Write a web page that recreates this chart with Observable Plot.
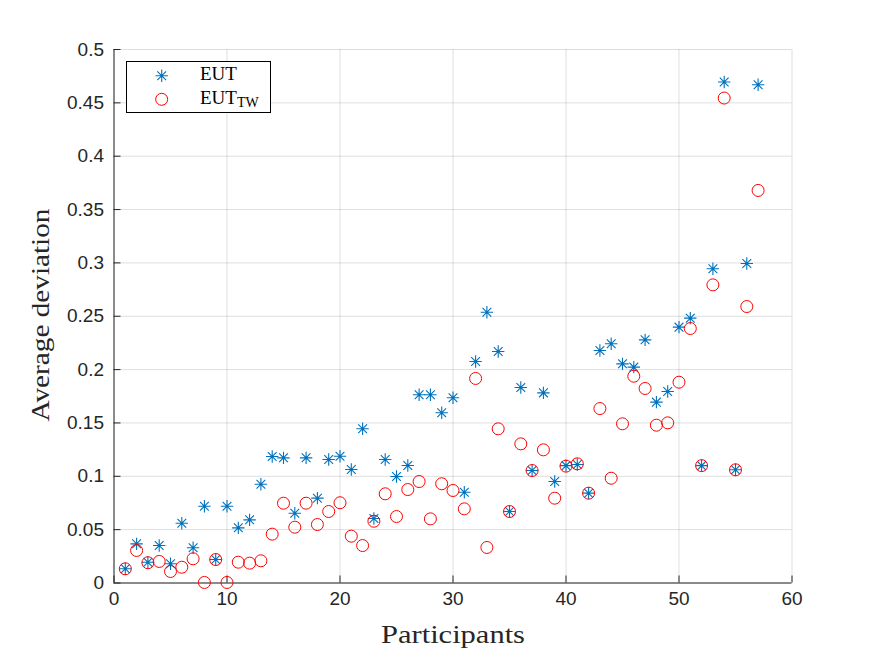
<!DOCTYPE html>
<html>
<head>
<meta charset="utf-8">
<script src="https://cdn.jsdelivr.net/npm/d3@7"></script>
<script src="https://cdn.jsdelivr.net/npm/@observablehq/plot@0.6"></script>
<style>
  html, body { margin: 0; padding: 0; background: #fff; }
  #chart { position: relative; width: 875px; height: 656px; }
  #chart g[aria-label$="tick label"], #chart g[aria-label$="tick label"] text { font-size: 19px; font-family: 'Liberation Sans', Arial, sans-serif; }
</style>
</head>
<body>
<div id="chart"></div>
<script>
const participants = [1,2,3,4,5,6,7,8,9,10,11,12,13,14,15,16,17,18,19,20,21,22,23,24,25,26,27,28,29,30,31,32,33,34,35,36,37,38,39,40,41,42,43,44,45,46,47,48,49,50,51,52,53,54,55,56,57];
const eut = [0.0133,0.0367,0.0195,0.0351,0.018,0.056,0.033,0.072,0.022,0.072,
  0.0517,0.0592,0.0926,0.1185,0.1173,0.0654,0.1173,0.0795,0.1157,0.1188,
  0.1064,0.1445,0.0604,0.1157,0.0998,0.1101,0.1764,0.1764,0.1595,0.1736,
  0.0851,0.2076,0.2538,0.217,0.067,0.1832,0.1054,0.1782,0.0951,0.110,
  0.111,0.0842,0.2179,0.2242,0.2054,0.2023,0.2279,0.1695,0.1795,0.2398,
  0.2482,0.110,0.2945,0.4695,0.1061,0.2994,0.467];
const eutTW = [0.0133,0.0305,0.019,0.0202,0.0108,0.0148,0.0227,0.0005,0.022,0.0005,
  0.0195,0.0186,0.0208,0.0458,0.0748,0.0523,0.0748,0.0548,0.067,0.0752,
  0.0439,0.0351,0.0579,0.0836,0.0623,0.0876,0.0951,0.0601,0.093,0.0867,
  0.0695,0.1917,0.0333,0.1445,0.067,0.1304,0.1054,0.1248,0.0795,0.1095,
  0.1117,0.0842,0.1635,0.0982,0.1492,0.1938,0.1823,0.1479,0.1501,0.1882,
  0.2385,0.110,0.2794,0.4545,0.1061,0.2591,0.3679];
const xTicks = [0,10,20,30,40,50,60];
const xTickLabels = ["0","10","20","30","40","50","60"];
const yTicks = [0,0.05,0.1,0.15,0.2,0.25,0.3,0.35,0.4,0.45,0.5];
const yTickLabels = ["0","0.05","0.1","0.15","0.2","0.25","0.3","0.35","0.4","0.45","0.5"];
const seriesNames = ["EUT", "EUT", "TW"];
const xLabel = "Participants";
const yLabel = "Average deviation";

const blue = "#0072BD", red = "#FF0000", axisColor = "#262626";

const drawAsterisk = (ctx, r) => {
  const d = r * Math.SQRT1_2;
  ctx.moveTo(-r, 0); ctx.lineTo(r, 0);
  ctx.moveTo(0, -r); ctx.lineTo(0, r);
  ctx.moveTo(-d, -d); ctx.lineTo(d, d);
  ctx.moveTo(-d, d); ctx.lineTo(d, -d);
};
const asterisk = { draw(ctx, size) { drawAsterisk(ctx, Math.sqrt(size / Math.PI)); } };

const rowsEUT = participants.map((p, i) => ({p, v: eut[i]}));
const rowsTW = participants.map((p, i) => ({p, v: eutTW[i]}));

const plot = Plot.plot({
  width: 875,
  height: 656,
  marginLeft: 113.5,
  marginRight: 83.5,
  marginTop: 49,
  marginBottom: 73.5,
  style: { fontFamily: "'Liberation Sans', Arial, sans-serif", fontSize: "19px", color: axisColor, background: "#fff" },
  x: { domain: [0, 60], label: null },
  y: { domain: [0, 0.5], label: null },
  marks: [
    Plot.gridX(xTicks, { stroke: "#000", strokeOpacity: 0.13 }),
    Plot.gridY(yTicks, { stroke: "#000", strokeOpacity: 0.13 }),
    Plot.ruleX([0], { stroke: axisColor }),
    Plot.ruleY([0], { stroke: axisColor }),
    Plot.axisX(xTicks, { tickSize: -7, tickPadding: 15, stroke: axisColor, fill: axisColor, tickFormat: (d, i) => xTickLabels[i], label: null }),
    Plot.axisY(yTicks, { tickSize: -7, tickPadding: 17, stroke: axisColor, fill: axisColor, tickFormat: (d, i) => yTickLabels[i], label: null }),
    Plot.dot(rowsEUT, { x: "p", y: "v", symbol: asterisk, r: 6.2, stroke: blue, fill: "none", strokeWidth: 1.1 }),
    Plot.dot(rowsTW, { x: "p", y: "v", symbol: "circle", r: 6, stroke: red, fill: "none", strokeWidth: 1 })
  ]
});

document.getElementById("chart").appendChild(plot);

const svg = d3.select(plot);
const serif = "'Liberation Serif', 'Times New Roman', serif";

// axis labels
svg.append("text")
  .attr("x", 453).attr("y", 643)
  .attr("text-anchor", "middle")
  .attr("font-family", serif).attr("font-size", 26)
  .attr("fill", axisColor)
  .attr("textLength", 144).attr("lengthAdjust", "spacingAndGlyphs")
  .text(xLabel);
svg.append("text")
  .attr("transform", "translate(49,315) rotate(-90)")
  .attr("text-anchor", "middle")
  .attr("font-family", serif).attr("font-size", 26)
  .attr("fill", axisColor)
  .attr("textLength", 213).attr("lengthAdjust", "spacingAndGlyphs")
  .text(yLabel);

// legend
const lg = svg.append("g").attr("text-anchor", "start");
lg.append("rect").attr("x", 126.5).attr("y", 61.5).attr("width", 144).attr("height", 51)
  .attr("fill", "#fff").attr("stroke", "#000").attr("stroke-width", 1);
const ap = d3.path(); drawAsterisk(ap, 6.2);
lg.append("path").attr("d", ap.toString()).attr("transform", "translate(161.7,75.7)")
  .attr("fill", "none").attr("stroke", blue).attr("stroke-width", 1.1);
lg.append("circle").attr("cx", 161.7).attr("cy", 99.3).attr("r", 6)
  .attr("fill", "none").attr("stroke", red).attr("stroke-width", 1);
lg.append("text").attr("x", 200).attr("y", 80).attr("text-anchor", "start")
  .attr("font-family", serif).attr("font-size", 19)
  .attr("fill", "#000").text(seriesNames[0]);
const t2 = lg.append("text").attr("x", 200).attr("y", 104).attr("text-anchor", "start")
  .attr("font-family", serif).attr("font-size", 19)
  .attr("fill", "#000");
t2.append("tspan").text(seriesNames[1]);
t2.append("tspan").attr("font-size", 14).attr("dy", 3).text(seriesNames[2]);
</script>
</body>
</html>
